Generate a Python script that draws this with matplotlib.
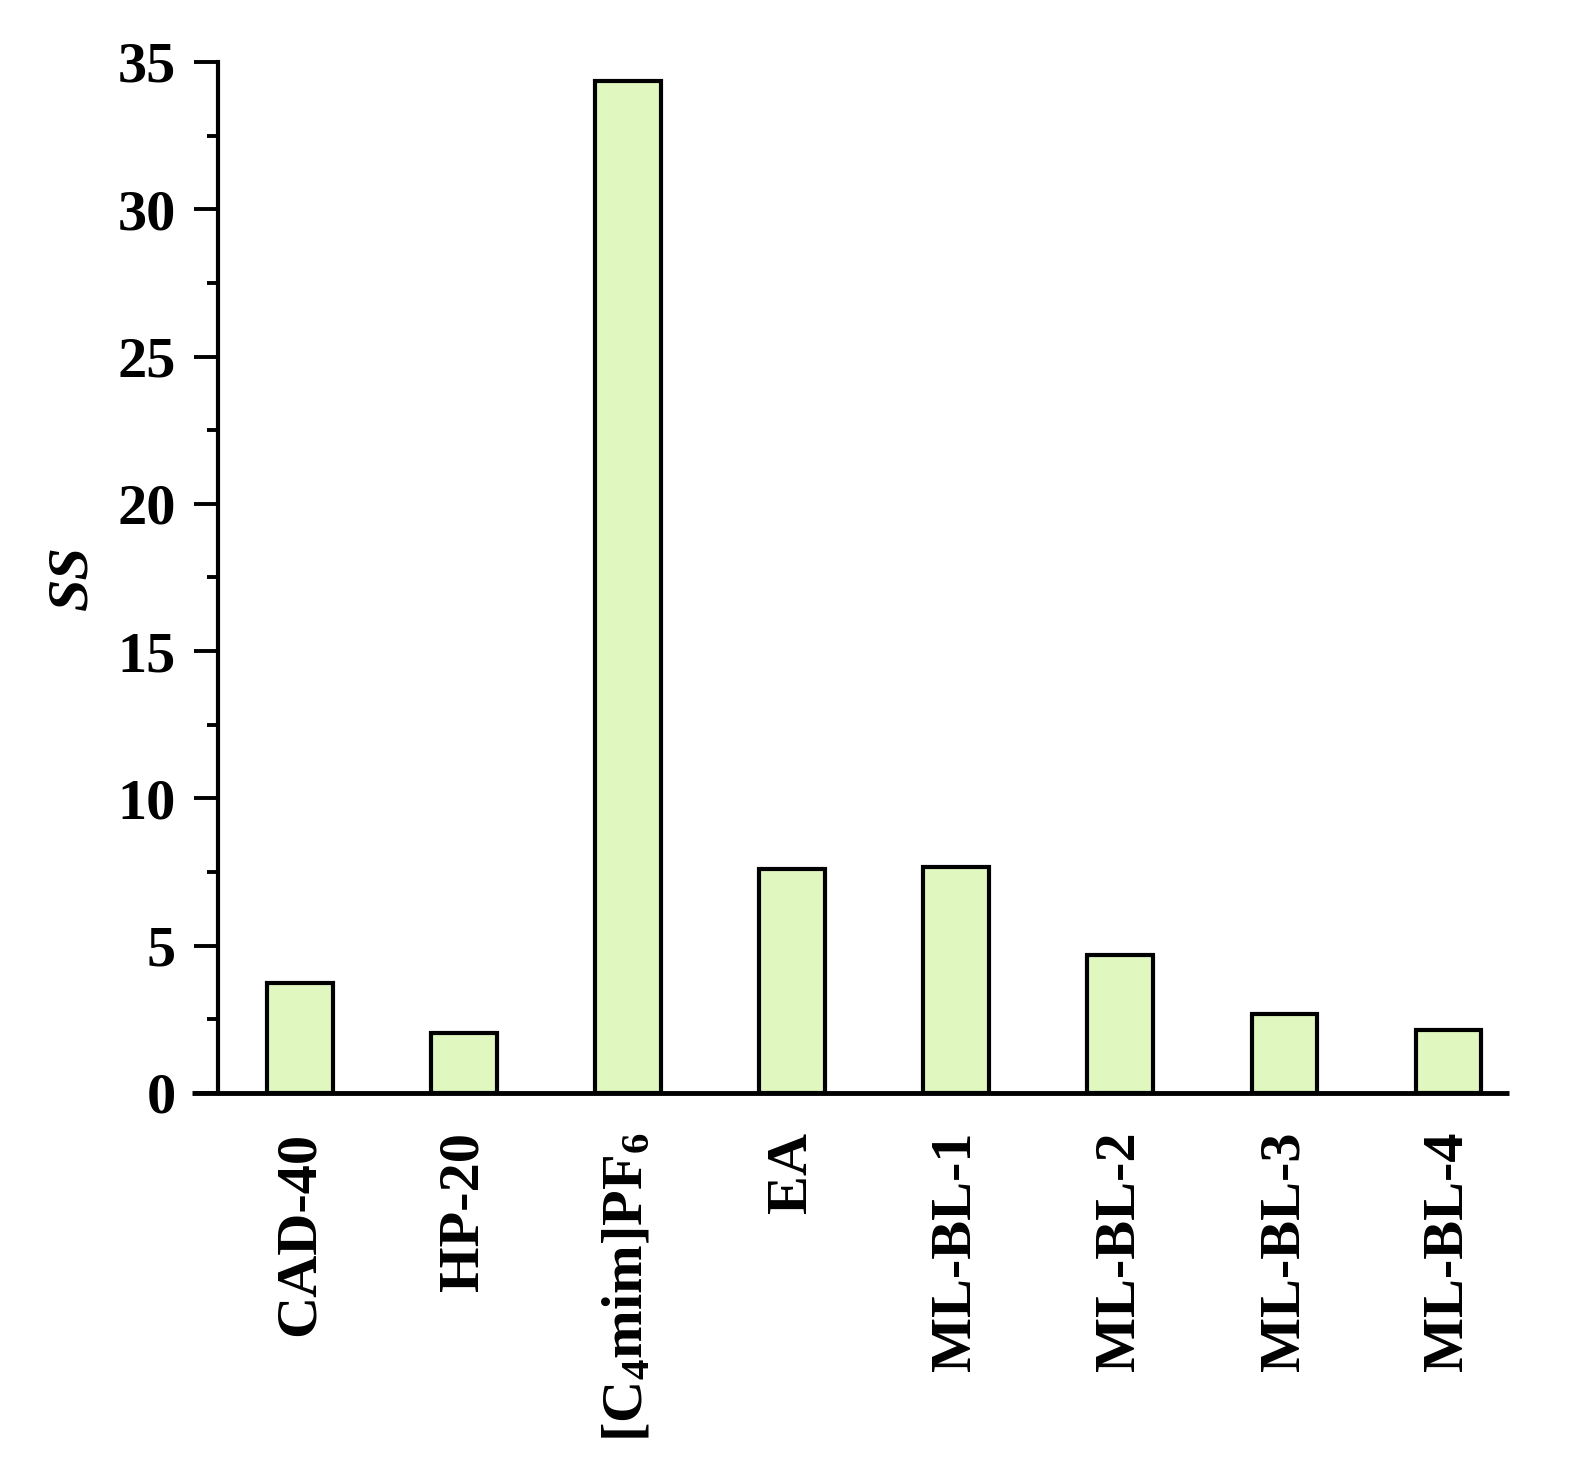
import matplotlib
matplotlib.use("Agg")
import matplotlib.pyplot as plt
from matplotlib.ticker import MultipleLocator

categories = ["CAD-40", "HP-20", r"[C$\mathregular{_4}$mim]PF$\mathregular{_6}$", "EA",
              "ML-BL-1", "ML-BL-2", "ML-BL-3", "ML-BL-4"]
ss_values = [3.75, 2.05, 34.35, 7.6, 7.67, 4.7, 2.67, 2.14]

plt.rcParams['font.family'] = ['Liberation Serif', 'DejaVu Serif']
plt.rcParams['font.weight'] = 'bold'
plt.rcParams['mathtext.fontset'] = 'custom'
plt.rcParams['mathtext.rm'] = 'Liberation Serif:bold'

fig = plt.figure(figsize=(15.77, 14.76), dpi=100)
ax = fig.add_axes([0.138, 0.2595, 0.819, 0.6985])

x = list(range(len(categories)))
ax.bar(x, ss_values, width=0.4, color='#E0F8C0', edgecolor='black', linewidth=3, zorder=3)

ax.set_xlim(-0.5, 7.37)
ax.set_ylim(0, 35)
ax.yaxis.set_major_locator(MultipleLocator(5))
ax.yaxis.set_minor_locator(MultipleLocator(2.5))

ax.set_xticks(x)
ax.set_xticklabels(categories, rotation=90, fontsize=42, fontweight='bold', va='top', ha='center')
ax.tick_params(axis='x', length=0, pad=28)
ax.tick_params(axis='y', which='major', length=17, width=2.8, direction='out', labelsize=42, pad=13)
ax.tick_params(axis='y', which='minor', length=8, width=2.8, direction='out')
for lab in ax.get_yticklabels():
    lab.set_fontweight('bold')

ax.set_ylabel('SS', fontsize=42, fontweight='bold', fontstyle='italic', labelpad=14)

for s in ['top', 'right']:
    ax.spines[s].set_visible(False)
ax.spines['left'].set_linewidth(3)
ax.spines['bottom'].set_visible(False)
ax.plot([-0.02, 1.0], [0, 0], transform=ax.transAxes, color='black', linewidth=3.5,
        clip_on=False, zorder=4, solid_capstyle='butt')

fig.savefig("out.png", dpi=100)
